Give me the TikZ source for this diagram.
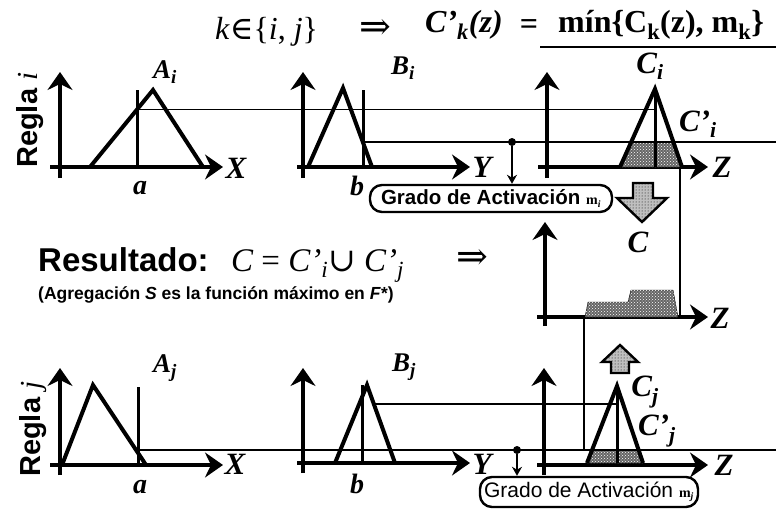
\documentclass[tikz,border=0pt]{standalone}
\usepackage{fontspec}
\setmainfont{Liberation Serif}
\setsansfont{Liberation Sans}
\newfontfamily\symf{DejaVu Serif}
\usetikzlibrary{arrows.meta,patterns}
\newcommand\fsz[1]{\fontsize{#1}{#1}\selectfont}
\begin{document}
\begin{tikzpicture}[x=1pt,y=-1pt,
  axis/.style={line width=3.6pt,-{Stealth[length=18pt,width=25pt,inset=6pt]}},
  memb/.style={line width=4pt,line join=miter},
  markline/.style={line width=3pt},
  guide/.style={line width=1.8pt},
  thinv/.style={line width=1.4pt},
  shade/.style={fill=black!60,postaction={pattern=crosshatch dots,pattern color=white}},
  blockarr/.style={draw,line width=2.4pt,fill=black!25,postaction={pattern=dots}},
  lab/.style={inner sep=0pt,font=\fsz{31}\bfseries\itshape},
  smlab/.style={inner sep=0pt,font=\fsz{27}\bfseries\itshape},
  gbox/.style={draw,line width=2.4pt,rounded corners=12pt,inner sep=0pt},
  dotn/.style={circle,fill,inner sep=0pt,minimum size=8pt},
  smallarr/.style={line width=1.5pt,-{Stealth[length=9pt,width=10pt]}}
]
\useasboundingbox (0,0) rectangle (776,511);

% ---------------- title ----------------
\node[anchor=base west,inner sep=0,font=\fsz{32}] (t1) at (215,40) {\textit{k}{\symf ∈}\{\textit{i}, \textit{j}\}};
\node[inner sep=0,font=\fsz{38}] (t2) at (375,29) {\symf ⇒};
\node[anchor=base west,inner sep=0,font=\fsz{32}\bfseries\itshape] (t3) at (425,33) {C’\textsubscript{k}(z)};
\node[inner sep=0,font=\fsz{32}\bfseries] (t4) at (529,27) {=};
\node[anchor=base west,inner sep=0,font=\fsz{32}\bfseries] (t5) at (558,33) {mín\{C\textsubscript{k}(z), m\textsubscript{k}\}};
\coordinate (ul1) at (540,47); \coordinate (ul2) at (776,47);
\draw[line width=1.6pt] (ul1) -- (ul2);

% ---------------- rule labels ----------------
\node[rotate=90,anchor=base west,inner sep=0] (ri) at (37,168) {\fsz{29}\sffamily\bfseries Regla \rmfamily\mdseries\itshape i};
\node[rotate=90,anchor=base west,inner sep=0] (rj) at (40,477) {\fsz{29}\sffamily\bfseries Regla \rmfamily\mdseries\itshape j};

% ================= RULE i =================
% A_i
\draw[axis] (60,178) -- (60,72);
\draw[axis] (50,167) -- (223,167);
\draw[memb] (90,167) -- (153,90) -- (203,167);
\coordinate (ai) at (137,109.5);
\draw[markline] (137,90) -- (137,167);
\node[smlab] (lAi) at (165,72) {A\textsubscript{i}};
\node[lab] (lXi) at (236,168) {X};
\node[lab,font=\fsz{28}\bfseries\itshape] (la1) at (140,188) {a};
% B_i
\draw[axis] (303,178) -- (303,72);
\draw[axis] (297,167) -- (470,167);
\draw[memb] (308,167) -- (343,88) -- (372,167);
\draw[markline] (363,90) -- (363,167);
\node[smlab] (lBi) at (403,68) {B\textsubscript{i}};
\node[lab] (lYi) at (482,167) {Y};
\node[lab,font=\fsz{28}\bfseries\itshape] (lb1) at (357,186) {b};
% C_i
\draw[axis] (547,178) -- (547,72);
\draw[axis] (538,167) -- (708,167);
\draw[shade] (620,167) -- (631.2,142) -- (673.4,142) -- (682,167) -- cycle;
\draw[memb] (620,167) -- (655,89) -- (682,167);
\draw[markline] (655,89) -- (655,167);
\node[lab] (lCi) at (650,66) {C\textsubscript{i}};
\node[lab] (lCpi) at (698,124) {C’\textsubscript{i}};
\node[lab] (lZi) at (722,167) {Z};
% guide lines
\coordinate (ci) at (655,109.5);
\draw[guide] (ai) -- (ci);
\coordinate (bi) at (363,142); \coordinate (ri2) at (776,142);
\draw[guide] (bi) -- (ri2);
% activation
\node[dotn] (d1) at (512,142) {};
\node[gbox,minimum width=242pt,minimum height=27pt] (box1) at (491,198.5)
  {\fsz{20.5}\sffamily\bfseries Grado de Activación {\rmfamily\fsz{14}m\textsubscript{\itshape i}}};
\draw[smallarr] (d1) -- (d1 |- box1.north);
% block arrow down
\draw[blockarr] (633,183) -- (653,183) -- (653,198) -- (667,198) -- (642,222) -- (617,198) -- (633,198) -- cycle;
\node[lab] (lC) at (638,242) {C};
\coordinate (cr1) at (680,167); \coordinate (cr2) at (680,317);
\draw[thinv] (cr1) -- (cr2);

% ---------------- result ----------------
\node[anchor=base west,inner sep=0,font=\fsz{33}\sffamily\bfseries] (res) at (38,271) {Resultado:};
\node[anchor=base west,inner sep=0,font=\fsz{33}\itshape] (resf) at (231,271)
  {C {\upshape=} C’\textsubscript{i}{\symf\upshape ∪} C’\textsubscript{j}};
\node[inner sep=0,font=\fsz{38}] (resarr) at (472,259) {\symf ⇒};
\node[anchor=base west,inner sep=0,font=\fsz{17.5}\sffamily\bfseries] (agg) at (38,299)
  {(Agregación \textit{S} es la función máximo en \textit{F*})};

% aggregated plot
\draw[axis] (545,326) -- (545,222);
\draw[axis] (537,317) -- (708,317);
\draw[shade] (585,317) -- (588,302) -- (628,302) -- (631,290) -- (673,290) -- (678,317) -- cycle;
\node[lab] (lZa) at (720,318) {Z};
\coordinate (cj1) at (584,317); \coordinate (cj2) at (584,450);
\draw[thinv] (cj1) -- (cj2);

% ================= RULE j =================
% A_j
\draw[axis] (60,475) -- (60,368);
\draw[axis] (50,465) -- (223,465);
\draw[memb] (62,465) -- (93,385) -- (146,465);
\draw[markline] (138,387) -- (138,465);
\node[smlab] (lAj) at (165,368) {A\textsubscript{j}};
\node[lab] (lXj) at (235,464) {X};
\node[lab,font=\fsz{28}\bfseries\itshape] (la2) at (140,487) {a};
% B_j
\draw[axis] (303,473) -- (303,368);
\draw[axis] (297,463) -- (470,463);
\draw[memb] (335,463) -- (367,385) -- (395,463);
\draw[markline] (362,385) -- (362,463);
\node[smlab] (lBj) at (404,367) {B\textsubscript{j}};
\node[lab] (lYj) at (482,464) {Y};
\node[lab,font=\fsz{28}\bfseries\itshape] (lb2) at (357,484) {b};
% C_j
\draw[axis] (544,475) -- (544,368);
\draw[axis] (537,465) -- (708,465);
\draw[shade] (587,463) -- (590.5,450) -- (640.5,450) -- (643,463) -- cycle;
\draw[memb] (587,463) -- (617,386) -- (643,463);
\draw[markline] (617,386) -- (617,463);
\node[lab] (lCj) at (645,392) {C\textsubscript{j}};
\node[lab] (lCpj) at (657,431) {C’\textsubscript{j}};
\node[lab] (lZj) at (724,465) {Z};
% guides
\coordinate (bj) at (374,404); \coordinate (cjc) at (617,404);
\draw[guide] (bj) -- (cjc);
\coordinate (aj) at (138,450); \coordinate (rj2) at (776,450);
\draw[guide] (aj) -- (rj2);
% activation
\node[dotn] (d2) at (517,450) {};
\node[gbox,minimum width=218pt,minimum height=30pt] (box2) at (589,492)
  {\fsz{21}\sffamily Grado de Activación {\rmfamily\bfseries\fsz{14}m\textsubscript{\itshape j}}};
\draw[smallarr] (d2) -- (d2 |- box2.north);
% block arrow up
\draw[blockarr] (611,373) -- (629,373) -- (629,362) -- (638,362) -- (620,345) -- (602,362) -- (611,362) -- cycle;
\end{tikzpicture}
\end{document}
